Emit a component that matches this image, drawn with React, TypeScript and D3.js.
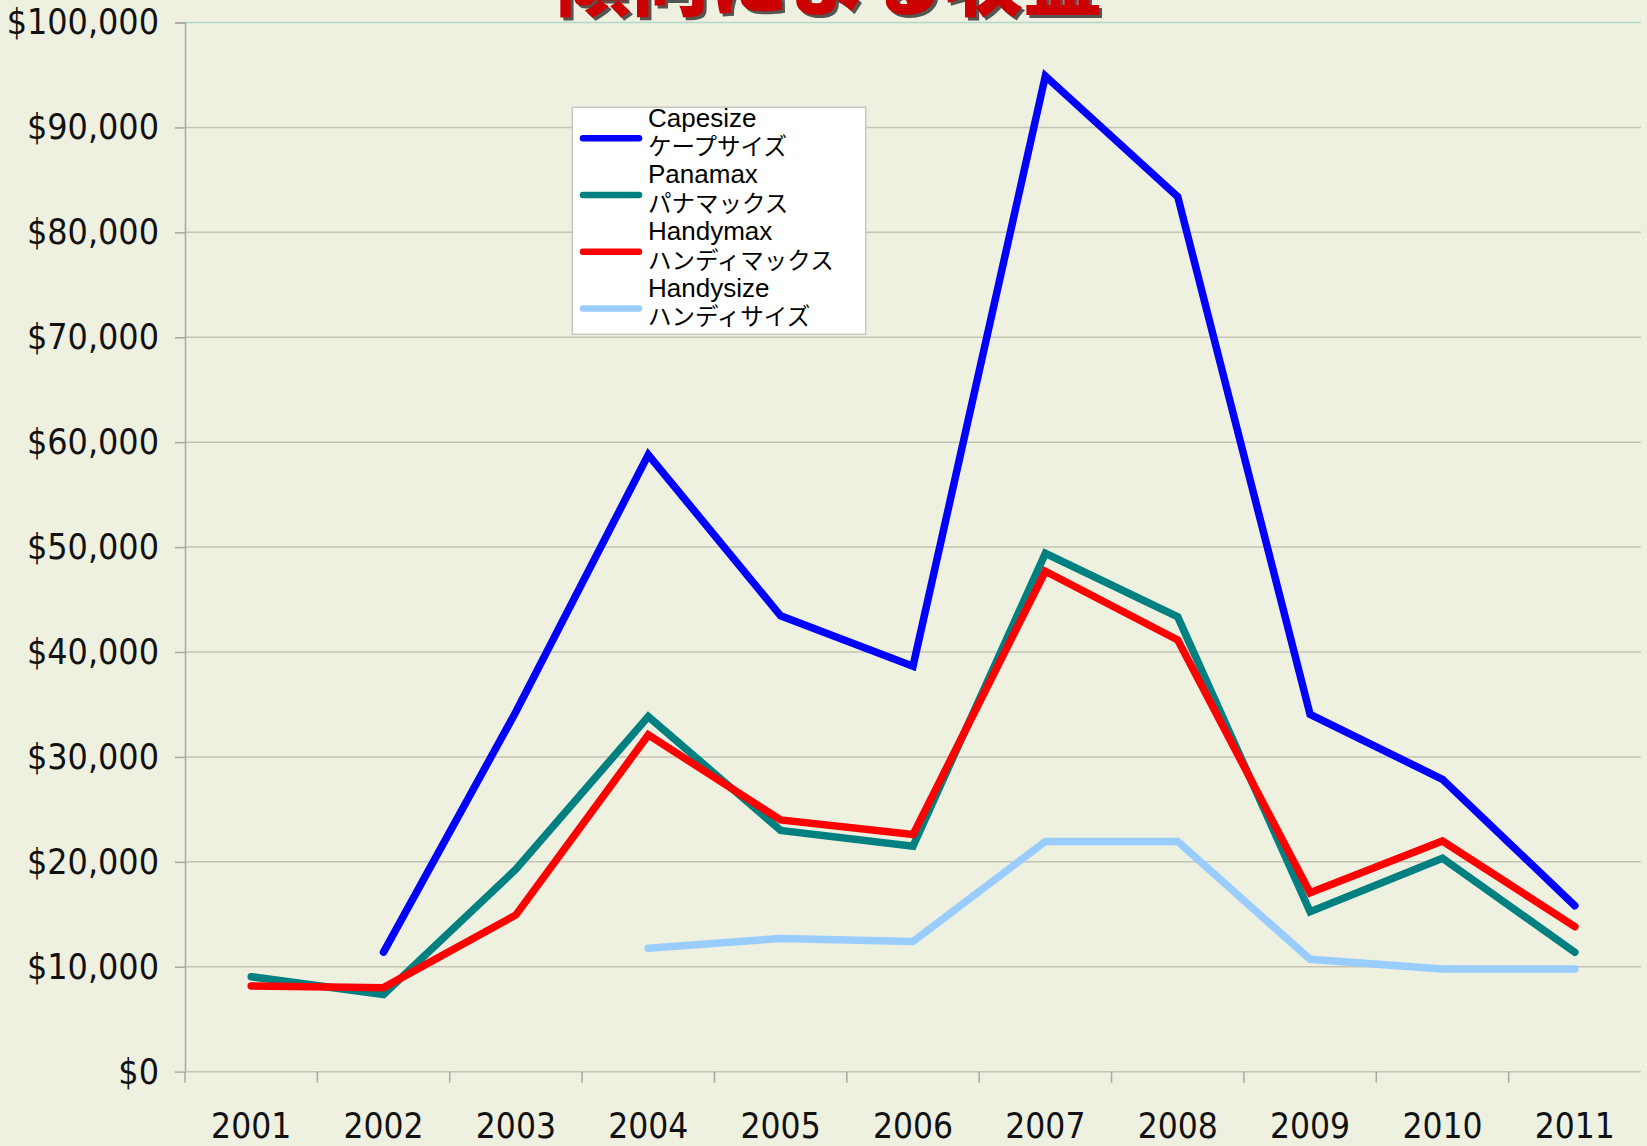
import React, { useEffect, useRef } from "react";
import * as d3 from "d3";

const W = 1647;
const H = 1146;

const years = ["2001", "2002", "2003", "2004", "2005", "2006", "2007", "2008", "2009", "2010", "2011"];

const capesize: (number | null)[] = [null, 11400, 34300, 58800, 43450, 38650, 94900, 83400, 34050, 27870, 15820];
const panamax: (number | null)[] = [9050, 7350, 19300, 33850, 23000, 21500, 49400, 43350, 15250, 20340, 11380];
const handymax: (number | null)[] = [8170, 8010, 14940, 32100, 24000, 22600, 47700, 41150, 17060, 21990, 13820];
const handysize: (number | null)[] = [null, null, null, 11760, 12700, 12420, 21940, 21940, 10710, 9790, 9790];

const seriesNames = ["Capesize", "Panamax", "Handymax", "Handysize"];
const seriesJp = ["ケープサイズ", "パナマックス", "ハンディマックス", "ハンディサイズ"];
const seriesColors = ["#0000ff", "#008080", "#ff0000", "#99ccff"];
const seriesValues = [capesize, panamax, handymax, handysize];

const yTicks = [0, 10000, 20000, 30000, 40000, 50000, 60000, 70000, 80000, 90000, 100000];
const title = "傾向による収益";

export default function App() {
  const ref = useRef<SVGSVGElement>(null);

  useEffect(() => {
    const svg = d3.select(ref.current);
    svg.selectAll("*").remove();

    const left = 185, right = 1641, top = 22.5, bottom = 1071.7;
    const x = d3.scaleBand().domain(years).range([left, right]).padding(0);
    const y = d3.scaleLinear().domain([0, 100000]).range([bottom, top]);

    svg.append("rect").attr("width", W).attr("height", H).attr("fill", "#eef0e0");

    // gridlines
    svg.append("g").selectAll("line").data(yTicks.filter(t => t > 0)).join("line")
      .attr("x1", left).attr("x2", right)
      .attr("y1", d => y(d)).attr("y2", d => y(d))
      .attr("stroke", d => d === 100000 ? "#b4d8c8" : "#c4c4b4")
      .attr("stroke-width", 1.5);

    // y axis
    const yAxis = d3.axisLeft(y).tickValues(yTicks).tickSize(10).tickPadding(16)
      .tickFormat(d => "$" + d3.format(",")(d as number));
    const gy = svg.append("g").attr("transform", `translate(${left},0)`).call(yAxis);
    gy.select(".domain").attr("stroke", "#a8a8a0").attr("stroke-width", 1.5);
    gy.selectAll(".tick line").attr("stroke", "#a8a8a0").attr("stroke-width", 1.5);
    gy.selectAll(".tick text")
      .attr("font-family", "'DejaVu Sans Condensed', 'DejaVu Sans', sans-serif")
      .attr("font-size", 35.5).attr("fill", "#111");

    // x axis
    const gx = svg.append("g").attr("transform", `translate(0,${bottom})`);
    gx.append("line").attr("x1", left - 10).attr("x2", right).attr("y1", 0).attr("y2", 0)
      .attr("stroke", "#c4c4b4").attr("stroke-width", 1.5);
    const bounds = years.map(yr => x(yr) as number);
    gx.selectAll("line.tk").data(bounds).join("line").attr("class", "tk")
      .attr("x1", d => d).attr("x2", d => d).attr("y1", 0).attr("y2", 11)
      .attr("stroke", "#a8a8a0").attr("stroke-width", 1.5);
    gx.selectAll("text").data(years).join("text")
      .attr("x", d => (x(d) as number) + x.bandwidth() / 2)
      .attr("y", 66)
      .attr("text-anchor", "middle")
      .attr("font-family", "'DejaVu Sans Condensed', 'DejaVu Sans', sans-serif")
      .attr("font-size", 35).attr("fill", "#111")
      .text(d => d);

    // lines
    const line = d3.line<number | null>()
      .defined(d => d !== null)
      .x((_, i) => (x(years[i]) as number) + x.bandwidth() / 2)
      .y(d => y(d as number));
    seriesValues.forEach((vals, si) => {
      svg.append("path").datum(vals)
        .attr("d", line as any)
        .attr("fill", "none")
        .attr("stroke", seriesColors[si])
        .attr("stroke-width", 7.5)
        .attr("stroke-linecap", "round")
        .attr("stroke-linejoin", "miter");
    });

    // legend
    const lg = svg.append("g");
    lg.append("rect").attr("x", 572.3).attr("y", 107.3).attr("width", 293.4).attr("height", 227)
      .attr("fill", "#ffffff").attr("stroke", "#c8c8c0").attr("stroke-width", 1.5);
    seriesNames.forEach((name, i) => {
      const cy = 138.3 + i * 56.7;
      lg.append("line").attr("x1", 583).attr("x2", 639).attr("y1", cy).attr("y2", cy)
        .attr("stroke", seriesColors[i]).attr("stroke-width", 6.5).attr("stroke-linecap", "round");
      const t = lg.append("text").attr("font-family", "'Liberation Sans', Arial, 'Noto Sans CJK JP', sans-serif")
        .attr("fill", "#000");
      t.append("tspan").attr("x", 648).attr("y", cy - 11.6).attr("font-size", 26).text(name);
      t.append("tspan").attr("x", 648).attr("y", cy + 17).attr("font-size", 23.5).text(seriesJp[i]);
    });

    // title (cut off at top, as in the reference)
    const tf = "'Noto Sans CJK JP', sans-serif";
    svg.append("text").attr("x", 830).attr("y", 13).attr("text-anchor", "middle")
      .attr("font-family", tf).attr("font-weight", 900).attr("font-size", 79)
      .attr("fill", "#222").attr("opacity", 0.75).text(title);
    svg.append("text").attr("x", 827).attr("y", 10).attr("text-anchor", "middle")
      .attr("font-family", tf).attr("font-weight", 900).attr("font-size", 79)
      .attr("fill", "#cc0000").text(title);
  }, []);

  return (
    <svg ref={ref} width={W} height={H} style={{ position: "absolute", left: 0, top: 0, display: "block" }} />
  );
}
